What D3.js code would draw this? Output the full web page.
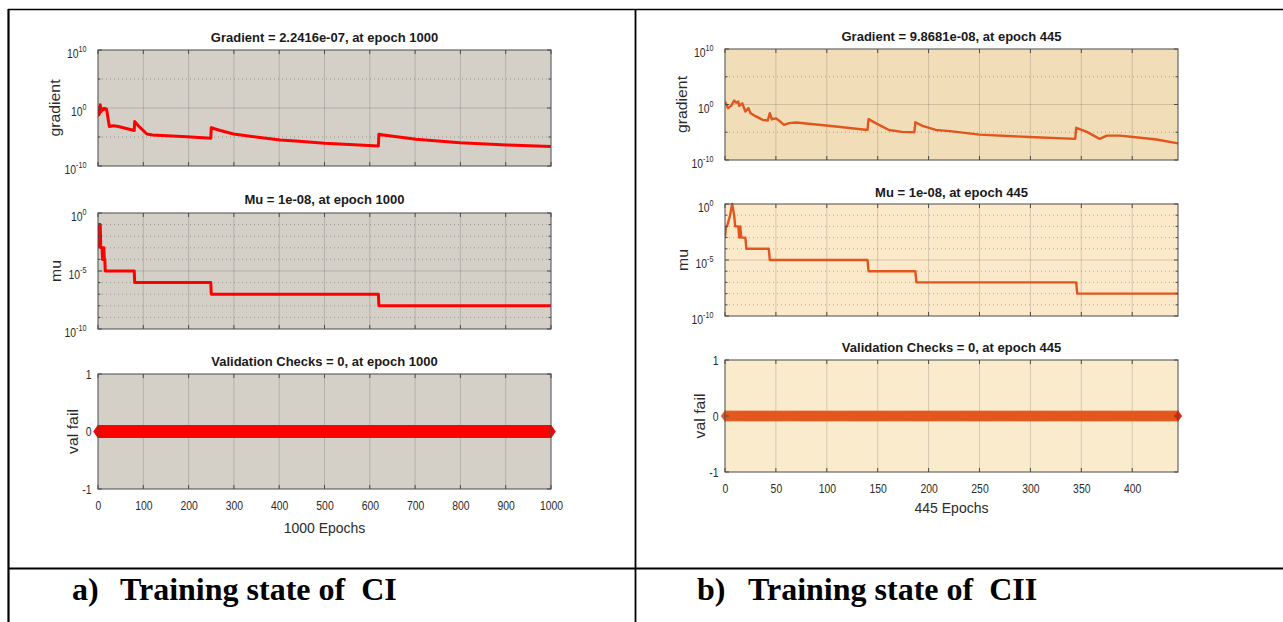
<!DOCTYPE html>
<html>
<head>
<meta charset="utf-8">
<script src="https://cdn.jsdelivr.net/npm/d3@7"></script>
<style>
  html, body { margin: 0; padding: 0; background: #fff; }
  svg { display: block; font-family: "Liberation Sans", Arial, Helvetica, sans-serif; }
</style>
</head>
<body>
<svg id="chart" width="1283" height="622"></svg>
<script>
// ---------- CI training run (1000 epochs) ----------
const ciFinalEpoch = 1000;
const ciGradEpochs = [0, 1, 3, 5, 7, 9, 12, 14, 19, 25, 34, 45, 80, 81, 92, 108, 120, 196, 249, 250, 270, 299, 402, 444, 500, 619, 620, 630, 702, 799, 902, 1000];
const ciGradValues = [2.2, 6.3e-2, 1.0e-1, 3.5, 2.5e-1, 7.9e-1, 5.0e-1, 8.9e-1, 6.3e-1, 6.3e-4, 8.9e-4, 6.3e-4, 1.3e-4, 4.5e-3, 5.0e-4, 3.3e-5, 2.2e-5, 1.15e-5, 5.9e-6, 4.0e-4, 1.3e-4, 3.3e-5, 3.0e-6, 1.8e-6, 8.1e-7, 2.8e-7, 2.9e-5, 2.2e-5, 4.0e-6, 1.05e-6, 4.2e-7, 2.2416e-7];
const ciMuEpochs = [0, 1, 3, 4, 5, 6, 9, 10, 11, 13, 14, 15, 16, 80, 81, 249, 250, 619, 620, 1000];
const ciMuValues = [1e-3, 1e-1, 1e-1, 1e-2, 1e-1, 1e-3, 1e-3, 1e-4, 1e-3, 1e-3, 1e-4, 1e-4, 1e-5, 1e-5, 1e-6, 1e-6, 1e-7, 1e-7, 1e-8, 1e-8];
const ciValFail = 0;
const ciXTicks = [0, 100, 200, 300, 400, 500, 600, 700, 800, 900, 1000];

// ---------- CII training run (445 epochs) ----------
const ciiFinalEpoch = 445;
const ciiGradEpochs = [0, 3, 6, 9, 11, 13, 14, 17, 20, 23, 25, 30, 37, 42, 44, 46, 50, 53, 58, 63, 70, 109, 140, 141, 148, 161, 174, 186, 187, 194, 207, 221, 250, 299, 344, 345, 355, 368, 375, 388, 401, 424, 445];
const ciiGradValues = [3.5, 2.2e-1, 5.6e-1, 5.2, 2.0, 3.5, 5.6e-1, 1.6, 5.4e-2, 2.2e-1, 2.8e-2, 7.9e-3, 1.7e-3, 1.3e-3, 2.8e-2, 2.2e-3, 3.2e-3, 1.3e-3, 2.2e-4, 4.5e-4, 5.6e-4, 1.1e-4, 2.6e-5, 2.3e-3, 4.5e-4, 2.6e-5, 1.15e-5, 1.0e-5, 6.3e-4, 1.4e-4, 2.6e-5, 1.6e-5, 3.7e-6, 1.4e-6, 6.3e-7, 6.3e-5, 1.3e-5, 6.3e-7, 2.5e-6, 2.5e-6, 1.4e-6, 5.0e-7, 9.8681e-8];
const ciiMuEpochs = [0, 1, 2, 5, 7, 9, 10, 13, 14, 15, 16, 20, 21, 43, 44, 140, 141, 187, 188, 345, 346, 445];
const ciiMuValues = [1e-3, 1e-2, 1e-2, 1e-1, 1, 1e-1, 1e-2, 1e-2, 1e-3, 1e-2, 1e-3, 1e-3, 1e-4, 1e-4, 1e-5, 1e-5, 1e-6, 1e-6, 1e-7, 1e-7, 1e-8, 1e-8];
const ciiValFail = 0;
const ciiXTicks = [0, 50, 100, 150, 200, 250, 300, 350, 400];

// ---------- shared axis ticks ----------
const gradTicks = [1e-10, 1, 1e10];
const gradMinorTicks = [1e-5, 1e5];
const muTicks = [1e-10, 1e-5, 1];
const muMinorTicks = [1e-9, 1e-8, 1e-7, 1e-6, 1e-4, 1e-3, 1e-2, 1e-1];
const valTicks = [-1, 0, 1];

// ---------- captions ----------
const captionLabels = ["a)", "b)"];
const captionTexts = ["Training state of\u00a0\u00a0CI", "Training state of\u00a0\u00a0CII"];

// ---------- layout ----------
const layoutCI = {
  x0: 98, x1: 551,
  rows: { grad: [50, 166], mu: [213, 329], val: [374, 489] },
  titleY: { grad: 41.5, mu: 204, val: 366 },
  xlabelY: 533,
  bg: { grad: "#d4d0c8", mu: "#d4d0c8", val: "#d4d0c8" },
  line: "#ff0000", lineWidth: 3,
  marker: { fill: "#ff0000", stroke: "#ff0000", last: "#ff0000", hw: 4.5, hh: 6.5, sw: 0.35 }
};
const layoutCII = {
  x0: 725, x1: 1178,
  rows: { grad: [49, 160], mu: [204, 316], val: [360, 472] },
  titleY: { grad: 41, mu: 197, val: 352 },
  xlabelY: 513,
  bg: { grad: "#f2ddb9", mu: "#fce9ca", val: "#fbebcd" },
  line: "#e2561d", lineWidth: 2.4,
  marker: { fill: "#e65b21", stroke: "#d34c17", last: "#ff2200", hw: 4, hh: 5.5, sw: 0.2 }
};

const svg = d3.select("#chart");
const TICK_SX = 0.8;          // tick label horizontal compression
const TICK_FS = 13;
const AXIS_COLOR = "#4a4a4a";
const TEXT_COLOR = "#2b2b2b";

function zip(a, b) { return a.map((v, i) => [v, b[i]]); }

function squeezed(g, x, y, sx) {
  return g.append("text").attr("transform", `translate(${x},${y}) scale(${sx},1)`);
}

function logLabel(g, value, xRight, yPos) {
  const exp = Math.round(Math.log10(value));
  const t = squeezed(g, xRight, yPos + 8, TICK_SX)
    .attr("text-anchor", "end").attr("font-size", TICK_FS).attr("fill", TEXT_COLOR);
  t.append("tspan").text("10");
  t.append("tspan").attr("dy", -6).attr("font-size", 9).text(String(exp));
}

function drawAxesBox(g, x, y, top, bottom, opts) {
  const x0 = x.range()[0], x1 = x.range()[1];
  g.append("rect").attr("x", x0).attr("y", top).attr("width", x1 - x0).attr("height", bottom - top)
    .attr("fill", opts.bg);
  (opts.minor || []).forEach(v => {
    g.append("line").attr("x1", x0).attr("x2", x1).attr("y1", y(v)).attr("y2", y(v))
      .attr("stroke", "#000").attr("stroke-opacity", 0.35).attr("stroke-width", 0.8)
      .attr("stroke-dasharray", "1,3");
  });
  opts.xTicks.forEach(v => {
    if (v === x.domain()[0] || v === x.domain()[1]) return;
    g.append("line").attr("x1", x(v)).attr("x2", x(v)).attr("y1", top).attr("y2", bottom)
      .attr("stroke", "#000").attr("stroke-opacity", 0.15);
  });
  (opts.yGrid || []).forEach(v => {
    g.append("line").attr("x1", x0).attr("x2", x1).attr("y1", y(v)).attr("y2", y(v))
      .attr("stroke", "#000").attr("stroke-opacity", 0.15);
  });
}

function drawAxesFrame(g, x, y, top, bottom, opts) {
  const x0 = x.range()[0], x1 = x.range()[1];
  g.append("rect").attr("x", x0).attr("y", top).attr("width", x1 - x0).attr("height", bottom - top)
    .attr("fill", "none").attr("stroke", AXIS_COLOR).attr("stroke-width", 1);
  opts.xTicks.forEach(v => {
    g.append("line").attr("x1", x(v)).attr("x2", x(v)).attr("y1", bottom).attr("y2", bottom - 4)
      .attr("stroke", AXIS_COLOR);
    g.append("line").attr("x1", x(v)).attr("x2", x(v)).attr("y1", top).attr("y2", top + 4)
      .attr("stroke", AXIS_COLOR);
  });
  opts.yTicks.forEach(v => {
    g.append("line").attr("x1", x0).attr("x2", x0 + 4).attr("y1", y(v)).attr("y2", y(v)).attr("stroke", AXIS_COLOR);
    g.append("line").attr("x1", x1).attr("x2", x1 - 4).attr("y1", y(v)).attr("y2", y(v)).attr("stroke", AXIS_COLOR);
  });
  (opts.minor || []).forEach(v => {
    g.append("line").attr("x1", x0).attr("x2", x0 + 2.5).attr("y1", y(v)).attr("y2", y(v)).attr("stroke", AXIS_COLOR);
    g.append("line").attr("x1", x1).attr("x2", x1 - 2.5).attr("y1", y(v)).attr("y2", y(v)).attr("stroke", AXIS_COLOR);
  });
}

function drawTitle(g, text, cx, y) {
  g.append("text").attr("x", cx).attr("y", y).attr("text-anchor", "middle")
    .attr("font-size", 13).attr("font-weight", "bold").attr("fill", "#1a1a1a").text(text);
}

function drawYLabel(g, text, x, cy) {
  g.append("text").attr("transform", `translate(${x},${cy}) rotate(-90) scale(1.13,1)`)
    .attr("text-anchor", "middle").attr("font-size", 14).attr("fill", TEXT_COLOR).text(text);
}

function drawRun(L, finalEpoch, gradE, gradV, muE, muV, valFail, xTicks, idx) {
  const g = svg.append("g");
  const cx = (L.x0 + L.x1) / 2;
  const x = d3.scaleLinear().domain([0, finalEpoch]).range([L.x0, L.x1]);
  const clipId = "clip" + idx;

  // gradient
  const [gT, gB] = L.rows.grad;
  const yG = d3.scaleLog().domain([1e-10, 1e10]).range([gB, gT]);
  drawAxesBox(g, x, yG, gT, gB, { bg: L.bg.grad, xTicks, minor: gradMinorTicks, yGrid: [1] });
  g.append("clipPath").attr("id", clipId + "g").append("rect")
    .attr("x", L.x0).attr("y", gT).attr("width", L.x1 - L.x0).attr("height", gB - gT);
  g.append("path").datum(zip(gradE, gradV))
    .attr("clip-path", `url(#${clipId}g)`)
    .attr("fill", "none").attr("stroke", L.line).attr("stroke-width", L.lineWidth)
    .attr("stroke-linejoin", "round")
    .attr("d", d3.line().x(d => x(d[0])).y(d => yG(d[1])));
  drawAxesFrame(g, x, yG, gT, gB, { xTicks, yTicks: gradTicks, minor: gradMinorTicks });
  gradTicks.forEach(v => logLabel(g, v, L.x0 - 11.5, yG(v)));
  const gFinal = gradV[gradV.length - 1];
  drawTitle(g, `Gradient = ${gFinal.toExponential(4).replace(/e([+-])(\d)$/, "e$10$2")}, at epoch ${finalEpoch}`, cx, L.titleY.grad);
  drawYLabel(g, "gradient", L.x0 - 38, (gT + gB) / 2);

  // mu
  const [mT, mB] = L.rows.mu;
  const yM = d3.scaleLog().domain([1e-10, 1]).range([mB, mT]);
  drawAxesBox(g, x, yM, mT, mB, { bg: L.bg.mu, xTicks, minor: muMinorTicks, yGrid: [1e-5] });
  g.append("clipPath").attr("id", clipId + "m").append("rect")
    .attr("x", L.x0).attr("y", mT - 2).attr("width", L.x1 - L.x0).attr("height", mB - mT + 2);
  g.append("path").datum(zip(muE, muV))
    .attr("clip-path", `url(#${clipId}m)`)
    .attr("fill", "none").attr("stroke", L.line).attr("stroke-width", L.lineWidth)
    .attr("stroke-linejoin", "round")
    .attr("d", d3.line().x(d => x(d[0])).y(d => yM(d[1])));
  drawAxesFrame(g, x, yM, mT, mB, { xTicks, yTicks: muTicks, minor: muMinorTicks });
  muTicks.forEach(v => logLabel(g, v, L.x0 - 11.5, yM(v)));
  const muFinal = muV[muV.length - 1];
  drawTitle(g, `Mu = ${muFinal.toExponential(0).replace(/e([+-])(\d)$/, "e$10$2")}, at epoch ${finalEpoch}`, cx, L.titleY.mu);
  drawYLabel(g, "mu", L.x0 - 37, (mT + mB) / 2);

  // validation checks
  const [vT, vB] = L.rows.val;
  const yV = d3.scaleLinear().domain([-1, 1]).range([vB, vT]);
  drawAxesBox(g, x, yV, vT, vB, { bg: L.bg.val, xTicks, yGrid: [0] });
  const epochs = d3.range(0, finalEpoch + 1);
  const m = L.marker;
  const diamond = `M0,${-m.hh}L${m.hw},0L0,${m.hh}L${-m.hw},0Z`;
  g.append("g").selectAll("path").data(epochs).join("path")
    .attr("d", diamond)
    .attr("transform", e => `translate(${x(e)},${yV(valFail)})`)
    .attr("fill", (e, i) => i === epochs.length - 1 ? m.last : m.fill)
    .attr("stroke", (e, i) => i === epochs.length - 1 ? m.last : m.stroke)
    .attr("stroke-width", m.sw);
  drawAxesFrame(g, x, yV, vT, vB, { xTicks, yTicks: valTicks });
  valTicks.forEach(v => {
    squeezed(g, L.x0 - 6.5, yV(v) + 4.5, TICK_SX).attr("text-anchor", "end")
      .attr("font-size", TICK_FS).attr("fill", TEXT_COLOR).text(String(v));
  });
  const ax = g.append("g").attr("transform", `translate(0,${vB})`)
    .call(d3.axisBottom(x).tickValues(xTicks).tickSize(0).tickPadding(12).tickFormat(d3.format("d")));
  ax.select(".domain").remove();
  ax.selectAll("text").attr("font-size", TICK_FS).attr("fill", TEXT_COLOR)
    .attr("font-family", "Liberation Sans, Arial, sans-serif")
    .attr("transform", `scale(${TICK_SX},1)`);
  drawTitle(g, `Validation Checks = ${valFail}, at epoch ${finalEpoch}`, cx, L.titleY.val);
  drawYLabel(g, "val fail", L.x0 - 20.5, (vT + vB) / 2);

  g.append("text").attr("x", cx).attr("y", L.xlabelY).attr("text-anchor", "middle")
    .attr("font-size", 14).attr("fill", TEXT_COLOR).text(`${finalEpoch} Epochs`);
}

drawRun(layoutCI, ciFinalEpoch, ciGradEpochs, ciGradValues, ciMuEpochs, ciMuValues, ciValFail, ciXTicks, 0);
drawRun(layoutCII, ciiFinalEpoch, ciiGradEpochs, ciiGradValues, ciiMuEpochs, ciiMuValues, ciiValFail, ciiXTicks, 1);

// table grid and captions
const tbl = svg.append("g").attr("stroke", "#000").attr("fill", "none");
tbl.append("line").attr("x1", 8).attr("x2", 1283).attr("y1", 9.5).attr("y2", 9.5).attr("stroke-width", 1.5);
tbl.append("line").attr("x1", 8.5).attr("x2", 8.5).attr("y1", 9).attr("y2", 622).attr("stroke-width", 2.2);
tbl.append("line").attr("x1", 635.5).attr("x2", 635.5).attr("y1", 9).attr("y2", 622).attr("stroke-width", 1.8);
tbl.append("line").attr("x1", 8).attr("x2", 1283).attr("y1", 568.5).attr("y2", 568.5).attr("stroke-width", 2);

const capX = [[72, 120], [697, 748]];
captionLabels.forEach((lab, i) => {
  svg.append("text").attr("x", capX[i][0]).attr("y", 600)
    .attr("font-family", "Liberation Serif, Times New Roman, serif").attr("font-weight", "bold")
    .attr("font-size", 32).attr("fill", "#000").text(lab);
  svg.append("text").attr("x", capX[i][1]).attr("y", 600)
    .attr("font-family", "Liberation Serif, Times New Roman, serif").attr("font-weight", "bold")
    .attr("font-size", 32).attr("fill", "#000").text(captionTexts[i]);
});
</script>
</body>
</html>
